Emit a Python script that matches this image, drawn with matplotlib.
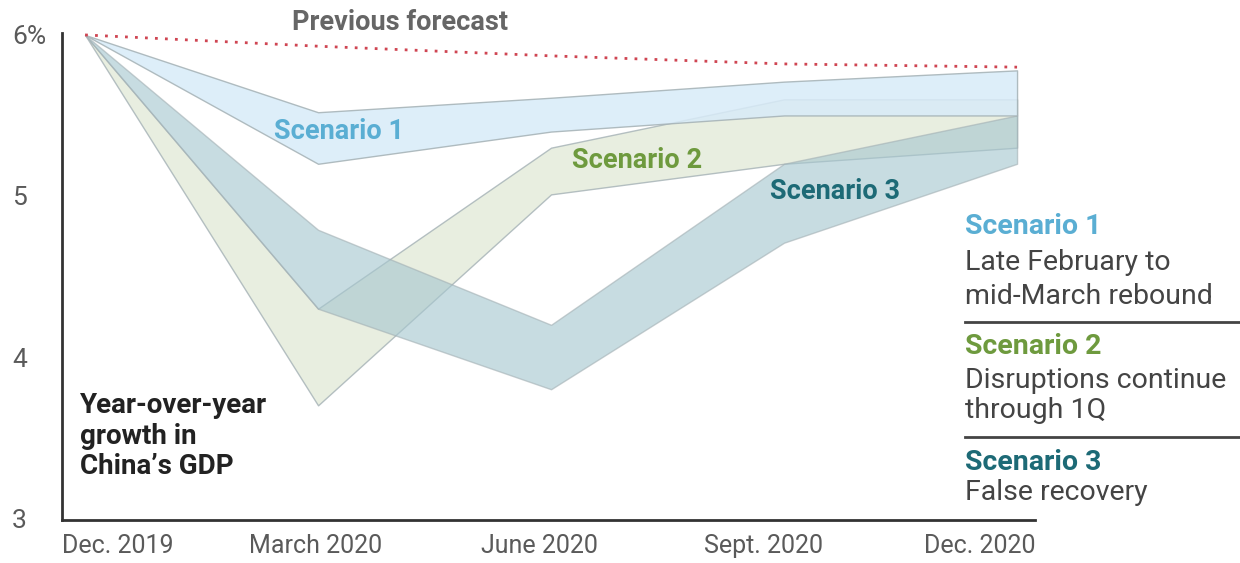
import matplotlib
matplotlib.use("Agg")
import matplotlib.pyplot as plt

# quarters: Dec. 2019 .. Dec. 2020
quarters = [0, 1, 2, 3, 4]
tick_labels = ["Dec. 2019", "March 2020", "June 2020", "Sept. 2020", "Dec. 2020"]

previous = [6.0, 5.93, 5.87, 5.82, 5.80]

s1_upper = [6.0, 5.52, 5.61, 5.71, 5.78]
s1_lower = [6.0, 5.20, 5.40, 5.50, 5.50]
s2_upper = [6.0, 4.30, 5.30, 5.60, 5.60]
s2_lower = [6.0, 3.70, 5.01, 5.20, 5.30]
s3_upper = [6.0, 4.79, 4.20, 5.20, 5.50]
s3_lower = [6.0, 4.30, 3.80, 4.71, 5.20]

y_ticks = [3, 4, 5, 6]
y_tick_labels = ["3", "4", "5", "6%"]

plt.rcParams['font.family'] = ['Roboto', 'DejaVu Sans']

W, H = 1240, 563
fig = plt.figure(figsize=(W / 100, H / 100), dpi=100)
ax = fig.add_axes([62 / W, 1 - 520 / H, 973 / W, 487 / H])

edge = '#a4b1b5'
ax.fill_between(quarters, s2_lower, s2_upper, facecolor='#e3ead9', alpha=0.8, edgecolor=edge, linewidth=1)
ax.fill_between(quarters, s3_lower, s3_upper, facecolor='#a6c7cf', alpha=0.62, edgecolor=edge, linewidth=1)
ax.fill_between(quarters, s1_lower, s1_upper, facecolor='#d8ebf8', alpha=0.85, edgecolor=edge, linewidth=1)

ax.plot(quarters, previous, linestyle=(0, (1, 2.6)), color='#cf4552', linewidth=2)

ax.set_xlim(-0.099, 4.077)
ax.set_ylim(2.988, 6.012)

for side in ['top', 'right']:
    ax.spines[side].set_visible(False)
for side in ['left', 'bottom']:
    ax.spines[side].set_color('#333333')
    ax.spines[side].set_linewidth(2)

grey = '#5a5a5a'
ax.set_yticks(y_ticks)
ax.set_yticklabels(y_tick_labels)
ax.tick_params(axis='y', length=0, pad=36, labelsize=19, labelcolor=grey)
for lbl in ax.get_yticklabels():
    lbl.set_horizontalalignment('left')

xlo, xhi = ax.get_xlim()
ax.set_xticks([xlo, 0.99, 1.95, 2.91, xhi])
ax.set_xticklabels(tick_labels)
ax.tick_params(axis='x', length=0, pad=10, labelsize=18, labelcolor=grey)
labels = ax.get_xticklabels()
labels[0].set_horizontalalignment('left')
labels[-1].set_horizontalalignment('right')

# labels on the bands
band_size = 19.5
ax.text(1.09, 5.40, "Scenario 1", color='#5aaed3', fontsize=band_size, fontweight='bold', ha='center', va='center')
ax.text(2.37, 5.22, "Scenario 2", color='#6e9a3e', fontsize=band_size, fontweight='bold', ha='center', va='center')
ax.text(3.22, 5.03, "Scenario 3", color='#1d6a76', fontsize=band_size, fontweight='bold', ha='center', va='center')
ax.text(1.35, 6.08, "Previous forecast", color='#666666', fontsize=band_size, fontweight='bold',
        ha='center', va='center', clip_on=False)

ax.text(-0.02, 3.78, "Year-over-year\ngrowth in\nChina\u2019s GDP", color='#222222', fontsize=20,
        fontweight='bold', ha='left', va='top', linespacing=1.15)

# legend on the right
lx = 965 / W
def fy(py):
    return 1 - py / H

body = '#444444'
leg_size = 20.5
fig.text(lx, fy(227), "Scenario 1", color='#5aaed3', fontsize=leg_size, fontweight='bold', va='center')
fig.text(lx, fy(262), "Late February to", color=body, fontsize=leg_size, va='center')
fig.text(lx, fy(296), "mid-March rebound", color=body, fontsize=leg_size, va='center')
fig.add_artist(plt.Line2D([lx, 1.0], [fy(322), fy(322)], color=body, linewidth=2))
fig.text(lx, fy(347), "Scenario 2", color='#6e9a3e', fontsize=leg_size, fontweight='bold', va='center')
fig.text(lx, fy(380), "Disruptions continue", color=body, fontsize=leg_size, va='center')
fig.text(lx, fy(410), "through 1Q", color=body, fontsize=leg_size, va='center')
fig.add_artist(plt.Line2D([lx, 1.0], [fy(437), fy(437)], color=body, linewidth=2))
fig.text(lx, fy(462), "Scenario 3", color='#1d6a76', fontsize=leg_size, fontweight='bold', va='center')
fig.text(lx, fy(493), "False recovery", color=body, fontsize=leg_size, va='center')

fig.savefig('out.png', dpi=100)
